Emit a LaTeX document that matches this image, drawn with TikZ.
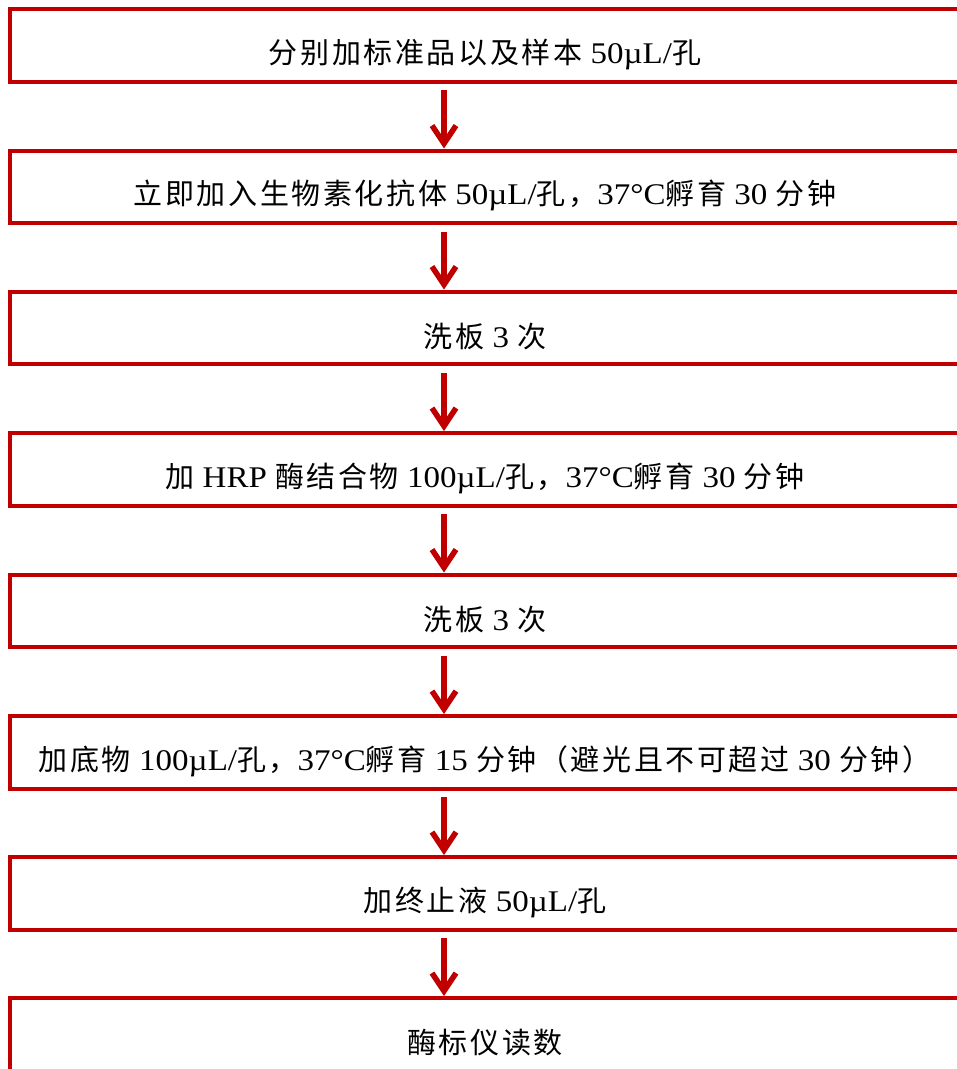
\documentclass[tikz,border=0pt]{standalone}
\usepackage{fontspec}
\setmainfont[FakeStretch=1.1]{Liberation Serif}
\newfontfamily\cjk[LetterSpace=9]{Noto Sans CJK SC}
\newcommand{\zh}[1]{{\fontsize{29}{32}\cjk #1}}
\usetikzlibrary{arrows.meta}
\definecolor{flowred}{RGB}{192,0,0}

\begin{document}
\begin{tikzpicture}[x=1pt,y=-1pt,
stepbox/.style={minimum width=952pt,minimum height=72.5pt,inner sep=0pt,anchor=north west},
steptext/.style={font=\fontsize{30}{32}\selectfont,inner sep=0pt},
boxline/.style={draw=flowred,line width=4pt,line join=miter},
flow/.style={draw=flowred,line width=5.5pt,-{Straight Barb[length=18pt,width=24pt]}}]
\useasboundingbox (0,0) rectangle (957,1069);
\coordinate (ax) at (444,0);

% boxes (open on the right)
\node[stepbox] (b1) at (9.5,9) {};
\node[stepbox] (b2) at (9.5,150.5) {};
\node[stepbox] (b3) at (9.5,291.5) {};
\node[stepbox] (b4) at (9.5,433) {};
\node[stepbox] (b5) at (9.5,574.5) {};
\node[stepbox] (b6) at (9.5,716) {};
\node[stepbox] (b7) at (9.5,857) {};
\node[stepbox,minimum height=80pt] (b8) at (9.5,998) {};

% texts
\node[steptext] (t1) at (485,54) {\zh{分别加标准品以及样本} 50µL/\zh{孔}};
\node[steptext] (t2) at (485,195.5) {\zh{立即加入生物素化抗体} 50µL/\zh{孔，}37°C\zh{孵育} 30 \zh{分钟}};
\node[steptext] (t3) at (485,336.5) {\zh{洗板} 3 \zh{次}};
\node[steptext] (t4) at (485,478) {\zh{加} HRP \zh{酶结合物} 100µL/\zh{孔，}37°C\zh{孵育} 30 \zh{分钟}};
\node[steptext] (t5) at (485,619.5) {\zh{洗板} 3 \zh{次}};
\node[steptext] (t6) at (485,761) {\zh{加底物} 100µL/\zh{孔，}37°C\zh{孵育} 15 \zh{分钟（避光且不可超过} 30 \zh{分钟）}};
\node[steptext] (t7) at (485,902) {\zh{加终止液} 50µL/\zh{孔}};
\node[steptext] (t8) at (485,1043) {\zh{酶标仪读数}};

\foreach \i in {1,...,7}
  \draw[boxline] (b\i.north east) -- (b\i.north west) -- (b\i.south west) -- (b\i.south east);
\draw[boxline] (b8.north east) -- (b8.north west) -- (b8.south west);

% arrows
\foreach \i [evaluate=\i as \j using int(\i+1)] in {1,...,7}
  \draw[flow,shorten <=8.5pt,shorten >=2pt] (b\i.south -| ax) -- (b\j.north -| ax);
\end{tikzpicture}
\end{document}
